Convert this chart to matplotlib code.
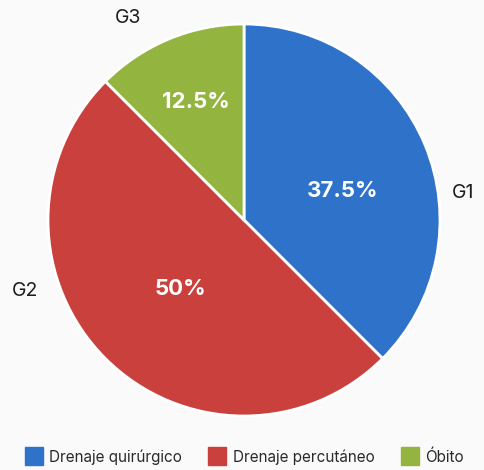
import matplotlib
matplotlib.use("Agg")
import matplotlib.pyplot as plt
from matplotlib.lines import Line2D

plt.rcParams['font.family'] = ['Inter', 'DejaVu Sans']

groups = ['G1', 'G2', 'G3']
legend_names = ['Drenaje quirúrgico', 'Drenaje percutáneo', 'Óbito']
values = [37.5, 50, 12.5]
colors = ['#2f72c9', '#c9403d', '#93b540']

W, H = 485, 470
fig = plt.figure(figsize=(W / 100, H / 100), dpi=100, facecolor='#fafafa')
ax = fig.add_axes([0, 0, 1, 1])
ax.set_facecolor('#fafafa')

cx, cy, r = 244, H - 220, 196


def fmt(p):
    s = '%.1f' % p
    if s.endswith('.0'):
        s = s[:-2]
    return s + '%'


wedges, texts, autotexts = ax.pie(
    values, labels=groups, colors=colors, startangle=90, counterclock=False,
    center=(cx, cy), radius=r, autopct=fmt, pctdistance=0.55,
    wedgeprops=dict(edgecolor='white', linewidth=2),
    textprops=dict(fontsize=14, color='#1e1e1e'))

# label placement as in the original chart (pixel offsets from top-left)
label_pos = [(463, 193), (25, 291), (128, 18)]
pct_pos = [(343, 191), (180, 289), (196, 102)]
for t, (x, y) in zip(texts, label_pos):
    t.set_position((x, H - y))
    t.set_ha('center')
    t.set_va('center')
for t, (x, y) in zip(autotexts, pct_pos):
    t.set_position((x, H - y))
    t.set_color('white')
    t.set_fontsize(16)
    t.set_fontweight('bold')
    t.set_ha('center')
    t.set_va('center')

ax.set_xlim(0, W)
ax.set_ylim(0, H)
ax.set_aspect('equal')
ax.axis('off')

handles = [Line2D([], [], marker='s', linestyle='', markersize=13,
                  markerfacecolor=c, markeredgecolor=c) for c in colors]
fig.legend(handles, legend_names, loc='center', bbox_to_anchor=(0.505, 1 - 457 / H),
           ncol=3, frameon=False, fontsize=11, handletextpad=0.5,
           columnspacing=1.8, handlelength=1.0, labelcolor='#2a2a2a')

fig.savefig('out.png', dpi=100, facecolor=fig.get_facecolor())
